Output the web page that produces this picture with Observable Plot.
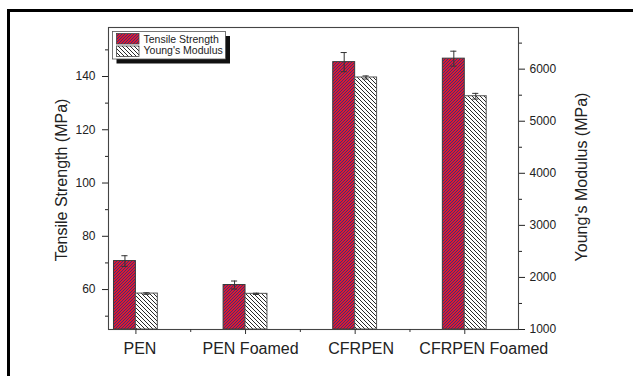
<!DOCTYPE html>
<html>
<head>
<meta charset="utf-8">
<script src="https://cdn.jsdelivr.net/npm/d3@7"></script>
<script src="https://cdn.jsdelivr.net/npm/@observablehq/plot@0.6"></script>
<style>
  html, body { margin: 0; padding: 0; background: #fff; overflow: hidden; }
  #wrap { position: relative; width: 633px; height: 376px; }
  #border { position: absolute; left: 7px; top: 9px; width: 800px; height: 600px;
            border-left: 3px solid #000; border-top: 3px solid #000; pointer-events: none; }
  #chart { position: absolute; left: 0; top: 0; }
</style>
</head>
<body>
<div id="wrap"><div id="chart"></div><div id="border"></div></div>
<script>
const categories = ["PEN", "PEN Foamed", "CFRPEN", "CFRPEN Foamed"];
const tensile = [70.7, 61.7, 145.4, 146.7];
const tensileErr = [2.0, 1.5, 3.6, 2.8];
const modulus = [1690, 1685, 5840, 5480];
const modulusErr = [15, 12, 30, 55];
const leftTicks = [60, 80, 100, 120, 140];
const leftMinor = [50, 70, 90, 110, 130, 150];
const rightTicks = [1000, 2000, 3000, 4000, 5000, 6000];
const rightMinor = [1500, 2500, 3500, 4500, 5500, 6500];
const seriesNames = ["Tensile Strength", "Young's Modulus"];

const yDom = [45, 158.4];
const rDom = [1000, 6800];
const toLeft = v => yDom[0] + (v - rDom[0]) * (yDom[1] - yDom[0]) / (rDom[1] - rDom[0]);
const toRight = v => rDom[0] + (v - yDom[0]) * (rDom[1] - rDom[0]) / (yDom[1] - yDom[0]);

const data = categories.map((c, k) => ({
  cat: c, i: k + 1,
  ts: tensile[k], tsErr: tensileErr[k],
  ym: modulus[k], ymErr: modulusErr[k]
}));

const barW = 0.2, capW = 0.028;
const font = "'Liberation Sans', Arial, Helvetica, sans-serif";
const labelDx = [4, 5, 6, 19];

const plot = Plot.plot({
  width: 633, height: 376,
  marginLeft: 108, marginRight: 115, marginTop: 27, marginBottom: 47,
  style: { fontFamily: font, background: "transparent", color: "#222" },
  x: { type: "linear", domain: [0.75, 4.49] },
  y: { domain: yDom },
  marks: [
    Plot.rect(data, { x1: d => d.i - barW, x2: d => d.i, y1: () => yDom[0], y2: "ts",
      fill: "url(#hatchRed)", stroke: "#3a3a3a", strokeWidth: 1 }),
    Plot.rect(data, { x1: d => d.i, x2: d => d.i + barW, y1: () => yDom[0], y2: d => toLeft(d.ym),
      fill: "url(#hatchWhite)", stroke: "#555", strokeWidth: 1 }),
    Plot.ruleX(data, { x: d => d.i - barW / 2, y1: d => d.ts - d.tsErr, y2: d => d.ts + d.tsErr, stroke: "#333" }),
    Plot.ruleY(data, { y: d => d.ts + d.tsErr, x1: d => d.i - barW / 2 - capW, x2: d => d.i - barW / 2 + capW, stroke: "#333" }),
    Plot.ruleY(data, { y: d => d.ts - d.tsErr, x1: d => d.i - barW / 2 - capW, x2: d => d.i - barW / 2 + capW, stroke: "#333" }),
    Plot.ruleX(data, { x: d => d.i + barW / 2, y1: d => toLeft(d.ym - d.ymErr), y2: d => toLeft(d.ym + d.ymErr), stroke: "#333" }),
    Plot.ruleY(data, { y: d => toLeft(d.ym + d.ymErr), x1: d => d.i + barW / 2 - capW, x2: d => d.i + barW / 2 + capW, stroke: "#333" }),
    Plot.ruleY(data, { y: d => toLeft(d.ym - d.ymErr), x1: d => d.i + barW / 2 - capW, x2: d => d.i + barW / 2 + capW, stroke: "#333" }),
    Plot.frame({ stroke: "#444", strokeWidth: 1.1 }),
    Plot.axisY({ ticks: leftTicks, tickSize: 6, tickPadding: 7, label: null, fontSize: 12, stroke: "#222" }),
    Plot.axisY({ ticks: leftMinor, tickSize: 3, tickFormat: () => "", label: null, stroke: "#222" }),
    Plot.axisY({ anchor: "right", ticks: rightTicks.map(toLeft), tickSize: 6, tickPadding: 5,
      tickFormat: d => String(Math.round(toRight(d))), label: null, fontSize: 12, stroke: "#222" }),
    Plot.axisY({ anchor: "right", ticks: rightMinor.map(toLeft), tickSize: 3, tickFormat: () => "", label: null, stroke: "#222" }),
    Plot.axisX({ ticks: categories.map((c, k) => k + 1), tickSize: 5, tickFormat: () => "", label: null, stroke: "#333" }),
    Plot.axisX({ ticks: [1.5, 2.5, 3.5], tickSize: 3, tickFormat: () => "", label: null, stroke: "#333" }),
    ...categories.map((c, k) => Plot.text([c], { x: () => k + 1, frameAnchor: "bottom", lineAnchor: "top",
      dy: 13.5, dx: labelDx[k], fontSize: 16, fill: "#222", text: d => d })),
    Plot.text(["Tensile Strength (MPa)"], { frameAnchor: "left", textAnchor: "middle", dx: -47, dy: 1.5, rotate: -90,
      fontSize: 16, fill: "#222", text: d => d }),
    Plot.text(["Young's Modulus (MPa)"], { frameAnchor: "right", textAnchor: "middle", dx: 63, dy: -1.5, rotate: -90,
      fontSize: 16, fill: "#222", text: d => d })
  ]
});

const svg = d3.select(plot);
const defs = svg.insert("defs", ":first-child");
const pr = defs.append("pattern").attr("id", "hatchRed").attr("patternUnits", "userSpaceOnUse")
  .attr("width", 3).attr("height", 3);
pr.append("rect").attr("width", 3).attr("height", 3).attr("fill", "#dc1a30");
pr.append("path").attr("d", "M0,3L3,0M-1,1L1,-1M2,4L4,2").attr("stroke", "#33307e").attr("stroke-width", 0.9);
const pw = defs.append("pattern").attr("id", "hatchWhite").attr("patternUnits", "userSpaceOnUse")
  .attr("width", 4).attr("height", 4);
pw.append("rect").attr("width", 4).attr("height", 4).attr("fill", "#fff");
pw.append("path").attr("d", "M0,0L4,4M-1,3L1,5M3,-1L5,1").attr("stroke", "#111").attr("stroke-width", 0.9);

const lg = svg.append("g").attr("font-family", font).attr("text-anchor", "start");
lg.append("rect").attr("x", 116.5).attr("y", 36).attr("width", 113.5).attr("height", 27.5).attr("fill", "#111");
lg.append("rect").attr("x", 112.5).attr("y", 31.5).attr("width", 113).attr("height", 27.5)
  .attr("fill", "#fff").attr("stroke", "#555").attr("stroke-width", 0.8);
const fills = ["url(#hatchRed)", "url(#hatchWhite)"];
seriesNames.forEach((n, k) => {
  lg.append("rect").attr("x", 116.5).attr("y", 33.5 + k * 12.5).attr("width", 22.5).attr("height", 10.5)
    .attr("fill", fills[k]).attr("stroke", "#444").attr("stroke-width", 0.8);
  lg.append("text").attr("x", 143.5).attr("y", 42.8 + k * 11.6).attr("font-size", 10.5)
    .attr("text-anchor", "start").attr("fill", "#222").text(n);
});

document.getElementById("chart").appendChild(plot);
</script>
</body>
</html>
